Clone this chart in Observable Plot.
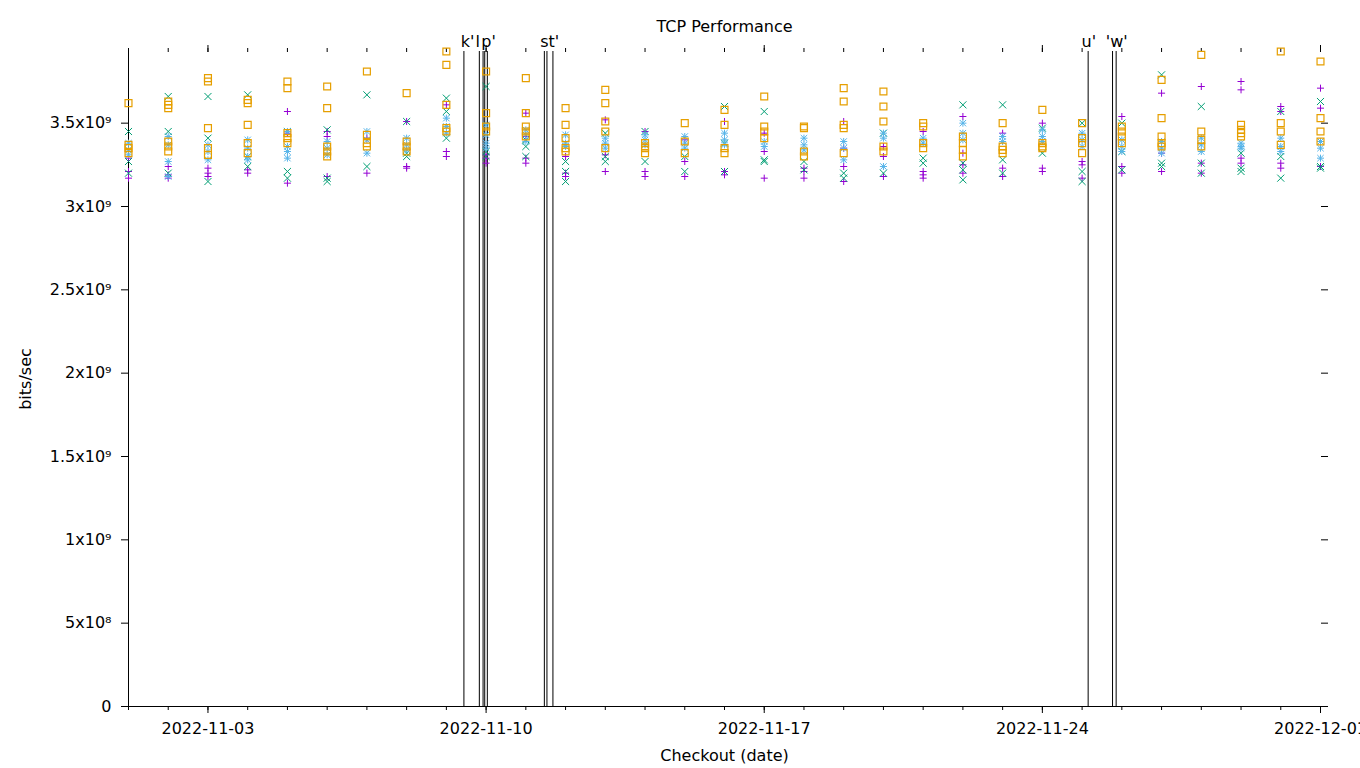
<!DOCTYPE html>
<html>
<head>
<meta charset="utf-8">
<script src="https://cdn.jsdelivr.net/npm/d3@7"></script>
<script src="https://cdn.jsdelivr.net/npm/@observablehq/plot@0.6"></script>
<style>
  body { margin: 0; background: #fff; }
  svg { font-family: "DejaVu Sans", sans-serif; }
</style>
</head>
<body>
<div id="chart"></div>
<script>
// ---- data ----
const days = ["2022-11-01","2022-11-02","2022-11-03","2022-11-04","2022-11-05","2022-11-06","2022-11-07","2022-11-08","2022-11-09","2022-11-10","2022-11-11","2022-11-12","2022-11-13","2022-11-14","2022-11-15","2022-11-16","2022-11-17","2022-11-18","2022-11-19","2022-11-20","2022-11-21","2022-11-22","2022-11-23","2022-11-24","2022-11-25","2022-11-26","2022-11-27","2022-11-28","2022-11-29","2022-11-30","2022-12-01"];

// values in units of 1e9 bits/sec, one list of runs per day
const purple = [
[3.29,3.21,3.17],[3.24,3.17,3.19],[3.23,3.18,3.20],[3.20,3.22],[3.57,3.14,3.44],
[3.45,3.42,3.18],[3.20,3.41],[3.51,3.24,3.23],[3.61,3.33,3.30],[3.29,3.26,3.31],
[3.56,3.29,3.26,3.42],[3.30,3.18,3.20],[3.52,3.31,3.21],[3.45,3.21,3.18],[3.27,3.18,3.40],
[3.51,3.19,3.21],[3.44,3.33,3.17],[3.23,3.21,3.17],[3.51,3.35,3.24,3.15],[3.36,3.18,3.30],
[3.45,3.21,3.17,3.19],[3.54,3.32,3.25,3.20],[3.44,3.23,3.18],[3.50,3.23,3.21],[3.27,3.17,3.25],
[3.54,3.24,3.20],[3.68,3.32,3.21],[3.72,3.26,3.20],[3.75,3.70,3.29,3.26],[3.60,3.57,3.26,3.23],
[3.71,3.59,3.24]
];
const green = [
[3.45,3.27,3.20],[3.66,3.45,3.20],[3.66,3.41,3.15],[3.67,3.24,3.30],[3.45,3.21,3.17],
[3.46,3.15,3.17],[3.67,3.24],[3.51,3.32,3.30],[3.65,3.57,3.41],[3.72,3.33,3.30],
[3.36,3.30,3.40],[3.27,3.21,3.15],[3.27,3.44,3.30],[3.45,3.27],[3.21,3.30],
[3.60,3.21,3.38],[3.57,3.28,3.27],[3.27,3.22],[3.20,3.17],[3.44,3.20],
[3.29,3.26],[3.61,3.26,3.16,3.22],[3.61,3.28,3.20],[3.47,3.32],[3.50,3.21,3.15],
[3.50,3.22,3.33],[3.79,3.26,3.24],[3.60,3.26,3.20],[3.32,3.21,3.23],[3.57,3.30,3.17],
[3.63,3.24,3.23]
];
const blue = [
[3.38,3.34,3.31],[3.42,3.37,3.27,3.18],[3.37,3.33,3.28],[3.40,3.35,3.30,3.28],[3.45,3.33,3.29,3.36],
[3.39,3.35,3.31],[3.45,3.40,3.32],[3.41,3.37,3.34],[3.53,3.48,3.44],[3.49,3.43,3.38,3.35],
[3.46,3.43,3.39],[3.43,3.38,3.36],[3.41,3.38,3.35],[3.43,3.40,3.37],[3.42,3.38,3.35],
[3.44,3.40,3.37],[3.39,3.36],[3.41,3.37,3.34],[3.39,3.35,3.28],[3.44,3.41,3.24],
[3.41,3.38],[3.50,3.44,3.40],[3.42,3.39],[3.46,3.42,3.39],[3.44,3.40,3.36],
[3.40,3.36,3.33],[3.39,3.35,3.32],[3.41,3.37,3.33],[3.38,3.36,3.35],[3.41,3.36,3.33],
[3.39,3.35,3.29]
];
const orange = [
[3.62,3.37,3.35,3.32],[3.63,3.61,3.59,3.39,3.36,3.33],[3.77,3.75,3.47,3.35,3.31],[3.64,3.62,3.49,3.38,3.32],[3.75,3.71,3.44,3.41,3.38],
[3.72,3.59,3.36,3.33,3.30],[3.81,3.43,3.38,3.36],[3.68,3.39,3.36,3.33],[3.93,3.85,3.61,3.47,3.45],[3.81,3.56,3.48,3.45],
[3.77,3.56,3.48,3.45,3.42],[3.59,3.49,3.41,3.35,3.33],[3.70,3.62,3.51,3.45,3.35],[3.38,3.35,3.32,3.36],[3.50,3.39,3.32],
[3.58,3.49,3.35,3.32],[3.66,3.48,3.45,3.41],[3.48,3.47,3.33,3.30],[3.71,3.63,3.49,3.47,3.32],[3.69,3.60,3.51,3.36,3.33],
[3.50,3.48,3.38,3.35],[3.42,3.38,3.30,3.34],[3.50,3.36,3.34,3.32],[3.58,3.38,3.35,3.36],[3.50,3.41,3.38,3.32],
[3.48,3.45,3.42,3.38],[3.76,3.53,3.42,3.38,3.36],[3.91,3.45,3.40,3.36],[3.49,3.46,3.44,3.42],[3.93,3.50,3.45,3.37],
[3.87,3.53,3.45,3.39]
];

// vertical checkout markers
const markerTimes = ["2022-11-09T10:36Z","2022-11-09T19:55Z","2022-11-09T22:10Z","2022-11-09T23:10Z","2022-11-10T00:45Z",
  "2022-11-11T11:11Z","2022-11-11T12:45Z","2022-11-11T16:22Z","2022-11-25T03:39Z","2022-11-25T18:23Z","2022-11-25T20:34Z"];
const markerLabelTimes = ["2022-11-09T12:50Z","2022-11-09T18:53Z","2022-11-10T01:31Z","2022-11-11T14:24Z","2022-11-25T04:05Z","2022-11-25T20:53Z"];
const markerLabelTexts = ["k'","l","p'","st'","u'","'w'"];

const yTicks = [0, 5e8, 1e9, 1.5e9, 2e9, 2.5e9, 3e9, 3.5e9];
const xMajorTicks = ["2022-11-03","2022-11-10","2022-11-17","2022-11-24","2022-12-01"];

// ---- build tables ----
const toDate = s => new Date(s.length === 10 ? s + "T00:00:00Z" : s);
function rowsOf(series) {
  const out = [];
  series.forEach((vals, i) => vals.forEach(v => out.push({date: toDate(days[i]), value: v * 1e9})));
  return out;
}
const purpleRows = rowsOf(purple), greenRows = rowsOf(green), blueRows = rowsOf(blue), orangeRows = rowsOf(orange);
const allValues = [...purpleRows, ...greenRows, ...blueRows, ...orangeRows].map(d => d.value);
const ymax = d3.max(allValues);
const dayDates = days.map(toDate);
const majorDates = xMajorTicks.map(toDate);
const markers = markerTimes.map(toDate);
const markerLabels = markerLabelTimes.map((t, i) => ({date: toDate(t), text: markerLabelTexts[i]}));

const sup = {8: "\u2078", 9: "\u2079"};
function yfmt(v) {
  if (v === 0) return "0";
  const e = Math.floor(Math.log10(v) + 1e-9);
  const m = +(v / Math.pow(10, e)).toFixed(2);
  return `${m}x10${sup[e]}`;
}

const chart = Plot.plot({
  width: 1360,
  height: 768,
  marginTop: 51,
  marginBottom: 62,
  marginLeft: 128,
  marginRight: 40,
  style: {fontFamily: "DejaVu Sans", fontSize: "16px", background: "white", color: "black", overflow: "visible"},
  x: {type: "utc", domain: [dayDates[0], dayDates[dayDates.length - 1]], axis: null},
  y: {domain: [0, ymax], axis: null},
  marks: [
    Plot.axisY({ticks: yTicks, tickSize: 7, tickPadding: 10, tickFormat: yfmt, label: null, fontSize: 16}),
    Plot.axisY({anchor: "right", ticks: yTicks, tickSize: 7, tickFormat: () => "", label: null}),
    Plot.axisX({ticks: dayDates, tickSize: 4, tickFormat: () => "", label: null}),
    Plot.axisX({ticks: majorDates, tickSize: 7, tickPadding: 9, tickFormat: d3.utcFormat("%Y-%m-%d"), label: null, fontSize: 16}),
    Plot.axisX({anchor: "top", ticks: dayDates, tickSize: 4, tickFormat: () => "", label: null}),
    Plot.axisX({anchor: "top", ticks: majorDates, tickSize: 7, tickFormat: () => "", label: null}),
    Plot.ruleX([dayDates[0]], {stroke: "black", strokeWidth: 1}),
    Plot.ruleY([0], {stroke: "black", strokeWidth: 1}),
    Plot.ruleX(markers, {stroke: "black", strokeWidth: 1}),
    Plot.text(markerLabels, {x: "date", text: "text", frameAnchor: "top", dy: -16, fill: "black", fontSize: 16}),
    Plot.dot(purpleRows, {x: "date", y: "value", symbol: "plus", r: 2.4, stroke: "#9400d3", strokeWidth: 1}),
    Plot.dot(greenRows, {x: "date", y: "value", symbol: "times", r: 3.3, stroke: "#009e73", strokeWidth: 1}),
    Plot.dot(blueRows, {x: "date", y: "value", symbol: "plus", r: 2.4, stroke: "#56b4e9", strokeWidth: 1}),
    Plot.dot(blueRows, {x: "date", y: "value", symbol: "times", r: 3.0, stroke: "#56b4e9", strokeWidth: 1}),
    Plot.dot(orangeRows, {x: "date", y: "value", symbol: "square", r: 3.9, fill: "none", stroke: "#e69f00", strokeWidth: 1.2}),
    Plot.text(["TCP Performance"], {frameAnchor: "top", dy: -31, fill: "black", fontSize: 16}),
    Plot.text(["Checkout (date)"], {frameAnchor: "bottom", dy: 54, fill: "black", fontSize: 16}),
    Plot.text(["bits/sec"], {frameAnchor: "left", textAnchor: "middle", dx: -103, rotate: -90, fill: "black", fontSize: 16})
  ]
});
document.getElementById("chart").append(chart);
</script>
</body>
</html>
